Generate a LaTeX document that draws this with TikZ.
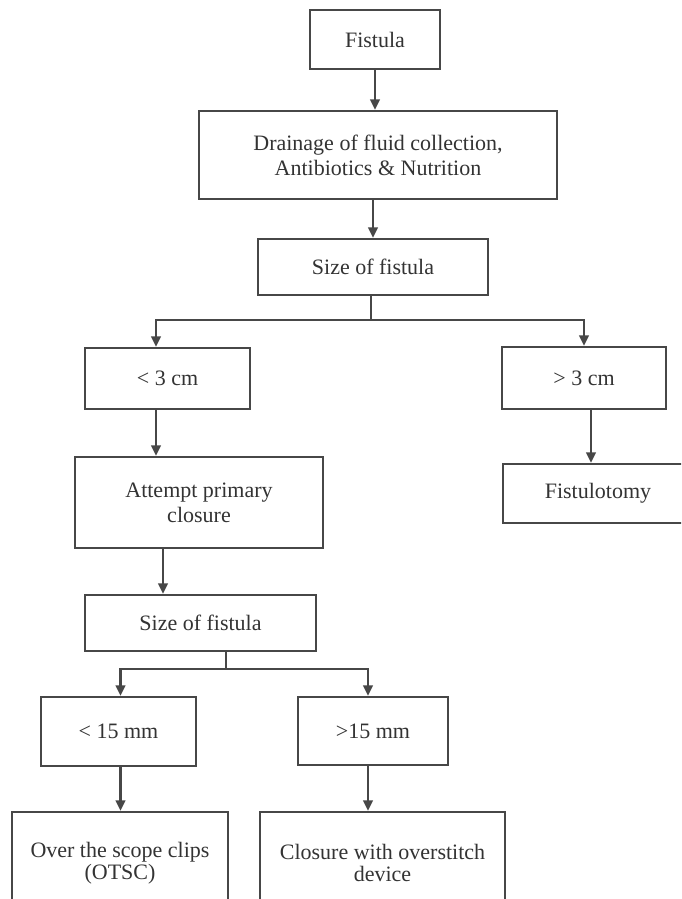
\documentclass[tikz,border=0pt]{standalone}
\usepackage{fontspec}
\setmainfont{Liberation Serif}
\usetikzlibrary{arrows.meta,positioning,calc}
\definecolor{FrameGray}{HTML}{474747}
\definecolor{InkGray}{HTML}{333333}
\begin{document}
\begin{tikzpicture}[x=0.5pt,y=-0.5pt,>={Triangle[width=4.8pt,length=5.2pt]},
  flowbox/.style={draw=FrameGray,line width=1.25pt,text=InkGray,align=center,inner sep=0pt,font=\fontsize{11}{12.5}\selectfont},
  tightbox/.style={flowbox,font=\fontsize{11}{11.2}\selectfont},
  link/.style={->,draw=FrameGray,line width=1.15pt}]
\useasboundingbox (0,0) rectangle (681,899);
\fill[white] (0,0) rectangle (681,899);
\clip (0,0) rectangle (681,899);
\node[flowbox,minimum width=65pt,minimum height=29.5pt] (fistula) at (375,39.5) {Fistula};
\node[flowbox,minimum width=179pt,minimum height=44pt] (drain) at (378,155) {Drainage of fluid collection,\\Antibiotics \& Nutrition};
\node[flowbox,minimum width=115pt,minimum height=28pt] (size1) at (373,267) {Size of fistula};
\node[flowbox,minimum width=82.5pt,minimum height=30.5pt] (lt3) at (167.5,378.5) {< 3 cm};
\node[flowbox,minimum width=82pt,minimum height=31pt] (gt3) at (584,378) {> 3 cm};
\node[flowbox,minimum width=124pt,minimum height=45.5pt] (attempt) at (199,502.5) {Attempt primary\\closure};
\node[flowbox,minimum width=95pt,minimum height=29.5pt] (fistulotomy) at (598,493.5) {Fistulotomy};
\node[flowbox,minimum width=115.5pt,minimum height=28pt] (size2) at (200.5,623) {Size of fistula};
\node[flowbox,minimum width=77.5pt,minimum height=34.5pt] (lt15) at (118.5,731.5) {< 15 mm};
\node[flowbox,minimum width=75pt,minimum height=34pt] (gt15) at (373,731) {>15 mm};
\node[tightbox,minimum width=108pt,minimum height=51pt] (otsc) at (120,863) {Over the scope clips\\(OTSC)};
\node[tightbox,minimum width=122.5pt,minimum height=51pt] (closure) at (382.5,863) {Closure with overstitch\\device};
% branch points
\coordinate (fork1) at (371,320);
\coordinate (fork2) at (226,669);
\draw[link] (fistula.south) -- (fistula.south |- drain.north);
\draw[link] (size1.north |- drain.south) -- (size1.north);
\draw[link] (fork1 |- size1.south) -- (fork1) -| ([xshift=-5.75pt]lt3.north);
\draw[link] (fork1) -| (gt3.north);
\draw[link] ([xshift=-5.75pt]lt3.south) -- ([xshift=-5.75pt]lt3.south |- attempt.north);
\draw[link] ([xshift=3.5pt]gt3.south) -- ([xshift=3.5pt]gt3.south |- fistulotomy.north);
\draw[link] ([xshift=-18pt]attempt.south) -- ([xshift=-18pt]attempt.south |- size2.north);
\draw[link] (fork2 |- size2.south) -- (fork2) -| ([xshift=1pt]lt15.north);
\draw[link] (fork2) -| ([xshift=-2.5pt]gt15.north);
\draw[link] ([xshift=1pt]lt15.south) -- ([xshift=1pt]lt15.south |- otsc.north);
\draw[link] ([xshift=-2.5pt]gt15.south) -- ([xshift=-2.5pt]gt15.south |- closure.north);
\end{tikzpicture}
\end{document}
